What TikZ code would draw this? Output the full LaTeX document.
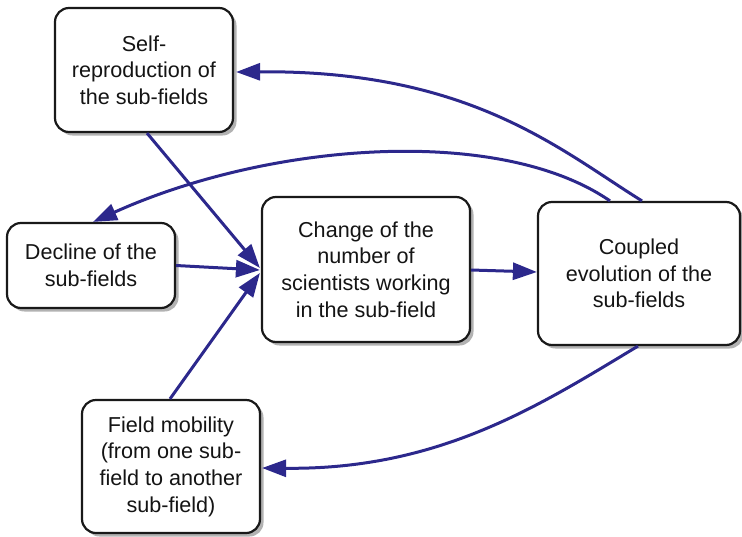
\documentclass[tikz,border=0pt]{standalone}
\usepackage{fontspec}
\setmainfont{Liberation Sans}
\usetikzlibrary{arrows.meta,shadows,calc}
\definecolor{arr}{RGB}{44,40,140}
\definecolor{txt}{RGB}{20,20,20}
\begin{document}
\begin{tikzpicture}[x=1pt,y=-1pt,
  box/.style={draw=black!90, line width=2.2pt, rounded corners=14pt, fill=white,
    align=center, inner sep=0pt, text=txt,
    font=\fontsize{21.6}{26.7}\selectfont,
    drop shadow={shadow xshift=3.5pt,shadow yshift=-3.5pt,fill=gray!60,opacity=1}},
  conn/.style={draw=arr, line width=3pt, -{Triangle[length=24pt,width=17pt]}}]
\useasboundingbox (0,0) rectangle (742,536);
\node[box, minimum width=178pt, minimum height=124pt] (self) at (144,70) {Self-\\reproduction of\\the sub-fields};
\node[box, minimum width=168pt, minimum height=85pt] (decline) at (91,265.5) {Decline of the\\sub-fields};
\node[box, minimum width=208pt, minimum height=145pt] (change) at (366,269.5) {Change of the\\number of\\scientists working\\in the sub-field};
\node[box, minimum width=202pt, minimum height=143pt] (coupled) at (639,273.5) {Coupled\\evolution of the\\sub-fields};
\node[box, minimum width=178pt, minimum height=133pt] (mobility) at (171,466.5) {Field mobility\\(from one sub-\\field to another\\sub-field)};

\draw[conn] ($(self.south)+(3,0)$) -- ($(change.west)+(-1,-1.5)$);
\draw[conn] (decline.east) -- ($(change.west)+(-1,0.5)$);
\draw[conn] ($(mobility.north)+(-1,0)$) -- ($(change.west)+(-1,3.5)$);
\draw[conn] ($(change.east)+(0,0.5)$) -- ($(coupled.west)+(0,-1.5)$);
\draw[conn] ($(coupled.north)+(3,0)$) .. controls (560,150) and (470,70) .. ($(self.east)+(2,2)$);
\draw[conn] ($(coupled.north)+(-29,0)$) .. controls (500,125) and (270,142) .. ($(decline.north)+(2,0)$);
\draw[conn] ($(coupled.south)+(-1,0)$) .. controls (540,405) and (440,470) .. ($(mobility.east)+(1,1.5)$);
\end{tikzpicture}
\end{document}
